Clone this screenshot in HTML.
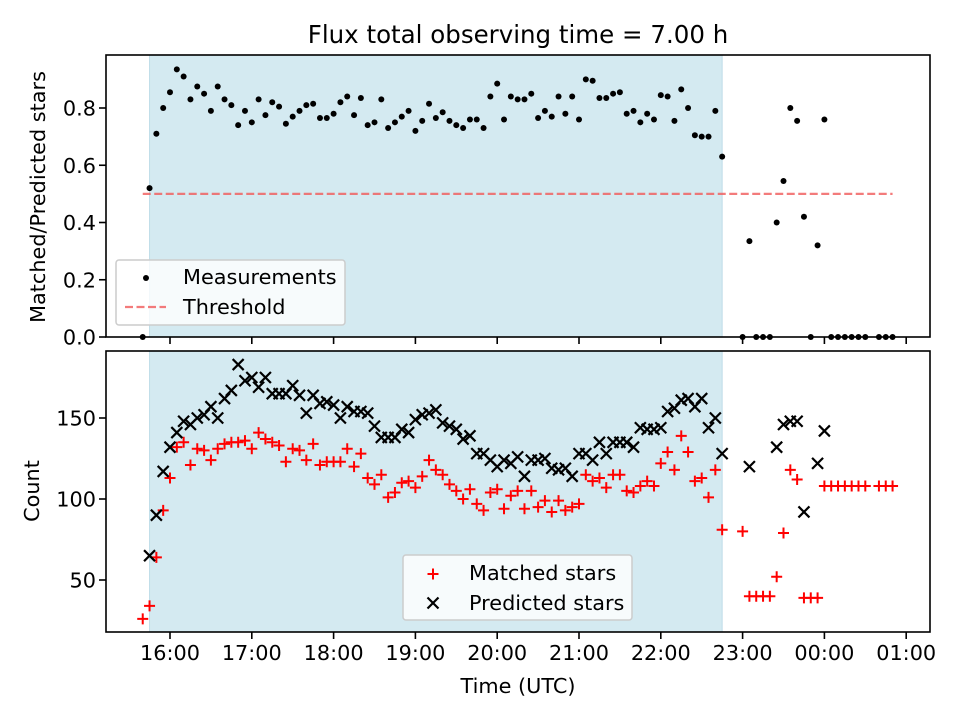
<!DOCTYPE html>
<html><head><meta charset="utf-8"><style>
body{margin:0;background:#fff;}
svg{display:block;font-family:"DejaVu Sans","Liberation Sans",sans-serif;}
</style></head><body>
<svg id="chart" width="960" height="720" viewBox="0 0 960 720" xmlns="http://www.w3.org/2000/svg">
<text x="518" y="43" font-size="24.5" text-anchor="middle">Flux total observing time = 7.00 h</text>
<g id="gtop"></g><g id="gbot"></g>
</svg>
<script>
// minutes relative to 16:00 UTC
const ratioTimes = [-20,-15,-10,-5,0,5,10,15,20,25,30,35,40,45,50,55,60,65,70,75,80,85,90,95,100,105,110,115,120,125,130,135,140,145,150,155,160,165,170,175,180,185,190,195,200,205,210,215,220,225,230,235,240,245,250,255,260,265,270,275,280,285,290,295,300,305,310,315,320,325,330,335,340,345,350,355,360,365,370,375,380,385,390,395,400,405,420,425,430,435,440,445,450,455,460,465,470,475,480,485,490,495,500,505,510,520,525,530];
const ratioValues = [0,0.52,0.71,0.80,0.855,0.935,0.91,0.83,0.875,0.85,0.79,0.875,0.83,0.81,0.74,0.79,0.75,0.83,0.775,0.82,0.805,0.745,0.77,0.79,0.81,0.815,0.765,0.765,0.78,0.82,0.84,0.775,0.835,0.74,0.75,0.83,0.73,0.75,0.77,0.79,0.72,0.755,0.815,0.765,0.785,0.755,0.74,0.73,0.76,0.76,0.73,0.84,0.885,0.76,0.84,0.83,0.83,0.85,0.765,0.79,0.77,0.84,0.78,0.84,0.76,0.90,0.895,0.835,0.835,0.85,0.855,0.78,0.79,0.75,0.78,0.76,0.845,0.84,0.755,0.865,0.80,0.705,0.70,0.70,0.79,0.63,0,0.335,0,0,0,0.40,0.545,0.80,0.755,0.42,0,0.32,0.76,0,0,0,0,0,0,0,0,0];
const matchedTimes = ratioTimes;
const matchedValues = [26,34,64,93,113,132,135,121,131,130,124,131,134,135,135,136,131,141,137,135,133,123,131,130,124,134,121,123,123,123,131,120,128,113,109,115,101,104,110,111,107,114,124,118,115,109,105,100,106,97,93,104,106,94,102,105,94,105,95,99,92,99,93,95,97,115,111,113,107,115,115,105,104,108,111,108,122,129,118,139,129,111,113,101,118,81,80,40,40,40,40,52,79,118,112,39,39,39,108,108,108,108,108,108,108,108,108,108];
const predictedTimes = [-15,-10,-5,0,5,10,15,20,25,30,35,40,45,50,55,60,65,70,75,80,85,90,95,100,105,110,115,120,125,130,135,140,145,150,155,160,165,170,175,180,185,190,195,200,205,210,215,220,225,230,235,240,245,250,255,260,265,270,275,280,285,290,295,300,305,310,315,320,325,330,335,340,345,350,355,360,365,370,375,380,385,390,395,400,405,425,445,450,455,460,465,475,480];
const predictedValues = [65,90,117,132,141,148,146,150,152,157,150,162,167,183,173,175,169,175,165,165,165,170,164,153,164,159,160,158,150,157,154,154,153,145,138,138,138,143,141,149,152,153,155,147,145,143,137,139,128,128,124,120,124,122,126,114,124,124,125,119,118,119,114,128,128,124,135,128,135,135,135,132,144,143,143,144,154,156,161,162,157,162,144,150,128,120,132,146,148,148,92,122,142];
const xTickMins = [0,60,120,180,240,300,360,420,480,540];
const xTickLabels = ["16:00","17:00","18:00","19:00","20:00","21:00","22:00","23:00","00:00","01:00"];
const ratioTicks = [0,0.2,0.4,0.6,0.8];
const countTicks = [50,100,150];
const threshold = 0.5;
const shadeStart = -15, shadeEnd = 405;

(function(){
const NS="http://www.w3.org/2000/svg";
const FS=20.8;
function mk(tag,attrs,parent){const e=document.createElementNS(NS,tag);for(const k in attrs)e.setAttribute(k,attrs[k]);parent.appendChild(e);return e;}
const L=106,R=930;
const X=m=>170+m*81.8/60;
const T={top:55,bot:337}; const B={top:351,bot:632};
const yR=v=>337-v*286.25;
const yC=v=>418-(v-150)*1.62;
const gTop=document.getElementById('gtop'), gBot=document.getElementById('gbot');

function axesFrame(g,box,name){
  const sh=mk('rect',{x:X(shadeStart),y:box.top,width:X(shadeEnd)-X(shadeStart),height:box.bot-box.top,fill:'rgb(212,234,241)',stroke:'rgb(190,220,232)','stroke-width':1},g);
  
  
  xTickMins.forEach((m,i)=>{
    const t=mk('line',{x1:X(m),x2:X(m),y1:box.bot,y2:box.bot+7,stroke:'#000','stroke-width':1.6},g);
    
    
  });
}
function frame(g,box,name){
  const f=mk('rect',{x:L,y:box.top,width:R-L,height:box.bot-box.top,fill:'none',stroke:'#000','stroke-width':1.6},g);
  
  
}
axesFrame(gTop,T,'top');
const th=mk('line',{x1:X(-20),x2:X(530),y1:yR(threshold),y2:yR(threshold),stroke:'rgba(240,90,90,0.8)','stroke-width':2.2,'stroke-dasharray':'8,3.5'},gTop);


ratioTimes.forEach((t,i)=>{
  const c=mk('circle',{cx:X(t),cy:yR(ratioValues[i]),r:3,fill:'#000'},gTop);
  
  
});
ratioTicks.forEach(v=>{
  mk('line',{x1:L-7,x2:L,y1:yR(v),y2:yR(v),stroke:'#000','stroke-width':1.6},gTop);
  const tx=mk('text',{x:L-10,y:yR(v)+7.5,'font-size':FS,'text-anchor':'end'},gTop);
  tx.textContent=v.toFixed(1);
  
  
});
frame(gTop,T,'top');
const lg=mk('g',{},gTop);


mk('rect',{x:116,y:260,width:229,height:65,rx:3,fill:'rgba(255,255,255,0.8)',stroke:'#ccc','stroke-width':1.5},lg);
mk('circle',{cx:146,cy:278,r:3,fill:'#000'},lg);
const t1=mk('text',{x:183,y:284,'font-size':FS},lg);t1.textContent='Measurements';


mk('line',{x1:125,x2:166,y1:307,y2:307,stroke:'rgba(240,90,90,0.8)','stroke-width':2.2,'stroke-dasharray':'8,3.5'},lg);
const t2=mk('text',{x:183,y:314,'font-size':FS},lg);t2.textContent='Threshold';


const yl1=mk('text',{x:0,y:0,'font-size':FS,'text-anchor':'middle',transform:'translate(45,197) rotate(-90)'},gTop);
yl1.textContent='Matched/Predicted stars';



axesFrame(gBot,B,'bottom');
function plus(g,x,y){return mk('path',{d:`M${x-5.5},${y}H${x+5.5}M${x},${y-5.5}V${y+5.5}`,stroke:'#f00','stroke-width':2,fill:'none'},g);}
function cross(g,x,y){return mk('path',{d:`M${x-5.5},${y-5.5}L${x+5.5},${y+5.5}M${x-5.5},${y+5.5}L${x+5.5},${y-5.5}`,stroke:'#000','stroke-width':2.2,fill:'none'},g);}
matchedTimes.forEach((t,i)=>{
  const p=plus(gBot,X(t),yC(matchedValues[i]));
  
  
});
predictedTimes.forEach((t,i)=>{
  const p=cross(gBot,X(t),yC(predictedValues[i]));
  
  
});
countTicks.forEach(v=>{
  mk('line',{x1:L-7,x2:L,y1:yC(v),y2:yC(v),stroke:'#000','stroke-width':1.6},gBot);
  const tx=mk('text',{x:L-10,y:yC(v)+7.5,'font-size':FS,'text-anchor':'end'},gBot);
  tx.textContent=v;
  
  
});
xTickMins.forEach((m,i)=>{
  const tx=mk('text',{x:X(m),y:660,'font-size':FS,'text-anchor':'middle'},gBot);
  tx.textContent=xTickLabels[i];
  
  
});
frame(gBot,B,'bottom');
const lg2=mk('g',{},gBot);


mk('rect',{x:403,y:555,width:229,height:65,rx:3,fill:'rgba(255,255,255,0.8)',stroke:'#ccc','stroke-width':1.5},lg2);
plus(lg2,433,574);
const t3=mk('text',{x:469,y:580,'font-size':FS},lg2);t3.textContent='Matched stars';


cross(lg2,433,603);
const t4=mk('text',{x:469,y:610,'font-size':FS},lg2);t4.textContent='Predicted stars';


const yl2=mk('text',{x:0,y:0,'font-size':FS,'text-anchor':'middle',transform:'translate(39,491) rotate(-90)'},gBot);
yl2.textContent='Count';


const xl=mk('text',{x:518,y:693,'font-size':FS,'text-anchor':'middle'},gBot);
xl.textContent='Time (UTC)';


})();
</script>
</body></html>
